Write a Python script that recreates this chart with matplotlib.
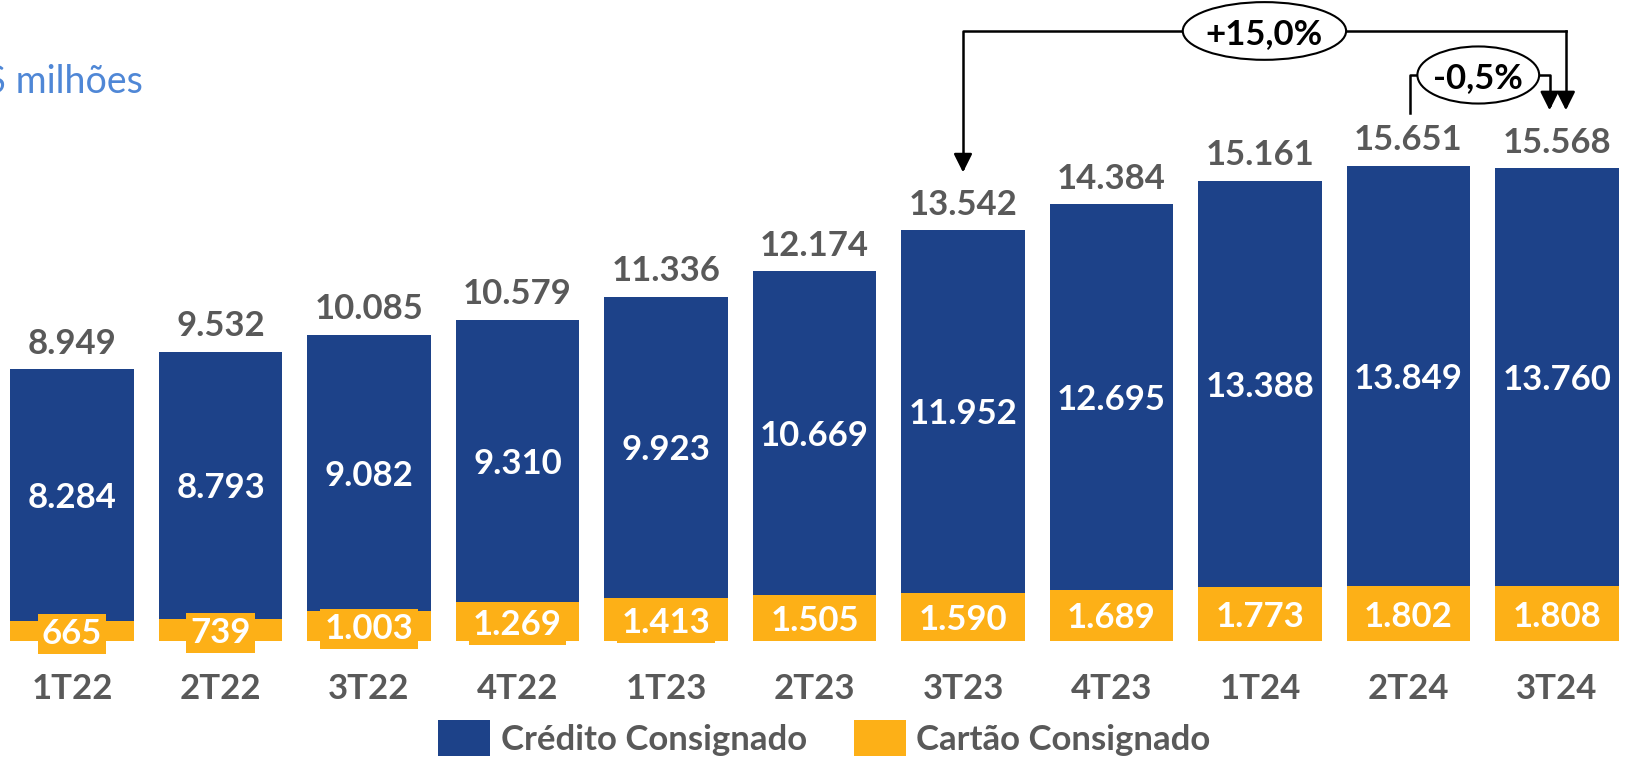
import matplotlib.pyplot as plt
from matplotlib.patches import Ellipse, Patch
import numpy as np

plt.rcParams['font.family'] = ['Lato', 'DejaVu Sans']

quarters = ['1T22', '2T22', '3T22', '4T22', '1T23', '2T23', '3T23', '4T23', '1T24', '2T24', '3T24']
credito = [8284, 8793, 9082, 9310, 9923, 10669, 11952, 12695, 13388, 13849, 13760]
cartao = [665, 739, 1003, 1269, 1413, 1505, 1590, 1689, 1773, 1802, 1808]
totals = [8949, 9532, 10085, 10579, 11336, 12174, 13542, 14384, 15161, 15651, 15568]

blue = '#1D4289'
orange = '#FDB017'
gray = '#595959'
fs = 25

def fmt(v):
    return f'{v:,}'.replace(',', '.')

fig = plt.figure(figsize=(16.29, 7.6), dpi=100)
ax = fig.add_axes([0, 0, 1, 1])
x = np.arange(len(quarters))

ax.bar(x, cartao, width=0.83, color=orange)
ax.bar(x, credito, width=0.83, bottom=cartao, color=blue)

for i in x:
    ax.annotate(fmt(totals[i]), (i, totals[i]), xytext=(0, 11), textcoords='offset points',
                ha='center', va='baseline', fontsize=fs, fontweight='bold', color=gray)
    ax.text(i, cartao[i] + credito[i] / 2, fmt(credito[i]), ha='center', va='center_baseline',
            fontsize=fs, fontweight='bold', color='white')
    ax.text(i, cartao[i] / 2, fmt(cartao[i]), ha='center', va='center_baseline',
            fontsize=fs, fontweight='bold', color='white',
            bbox=dict(boxstyle='square,pad=0.12', fc=orange, ec='none'))
    # category label below the bars
    ax.text(i, -1480, quarters[i], ha='center', va='center_baseline',
            fontsize=fs, fontweight='bold', color=gray)

ax.set_xticks([])
ax.set_yticks([])
for s in ax.spines.values():
    s.set_visible(False)

ax.set_xlim(-0.485, 10.485)
ax.set_ylim(-3920, 21110)

# variation callouts
top_y = 20090
tip_a = totals[6] + 1800
tip_b = totals[10] + 1820
ax.plot([6.0, 6.0, 10.06], [tip_a + 250, top_y, top_y], color='black', lw=1.8)
ax.annotate('', xy=(6.0, tip_a), xytext=(6.0, tip_a + 400),
            arrowprops=dict(arrowstyle='-|>', color='black', lw=1.8, mutation_scale=28))
ax.plot([10.06, 10.06], [top_y, tip_b + 250], color='black', lw=1.8)
ax.annotate('', xy=(10.06, tip_b), xytext=(10.06, tip_b + 400),
            arrowprops=dict(arrowstyle='-|>', color='black', lw=1.8, mutation_scale=28))
ax.add_patch(Ellipse((8.03, top_y), 1.10, 1900, fc='white', ec='black', lw=1.5, zorder=3))
ax.text(8.03, top_y, '+15,0%', ha='center', va='center_baseline', fontsize=fs, fontweight='bold',
        color='black', zorder=4)

mid_y = 18640
ax.plot([9.01, 9.01, 9.95, 9.95], [tip_b, mid_y, mid_y, tip_b + 250], color='black', lw=1.8)
ax.annotate('', xy=(9.95, tip_b), xytext=(9.95, tip_b + 400),
            arrowprops=dict(arrowstyle='-|>', color='black', lw=1.8, mutation_scale=28))
ax.add_patch(Ellipse((9.47, mid_y), 0.82, 1880, fc='white', ec='black', lw=1.5, zorder=3))
ax.text(9.47, mid_y, '-0,5%', ha='center', va='center_baseline', fontsize=fs, fontweight='bold',
        color='black', zorder=4)

fig.text(143 / 1629, 1 - 81 / 760, 'R$ milhões', ha='right', va='center',
         fontsize=27, color='#4F87D6')

handles = [Patch(fc=blue, ec='none'), Patch(fc=orange, ec='none')]
leg = fig.legend(handles, ['Crédito Consignado', 'Cartão Consignado'], ncol=2,
                 loc='center', bbox_to_anchor=(0.506, 0.029), frameon=False,
                 handlelength=1.5, handleheight=1.2, handletextpad=0.3,
                 columnspacing=1.35, prop=dict(size=fs, weight='bold'))
for t in leg.get_texts():
    t.set_color(gray)

fig.savefig('out.png', dpi=100)
